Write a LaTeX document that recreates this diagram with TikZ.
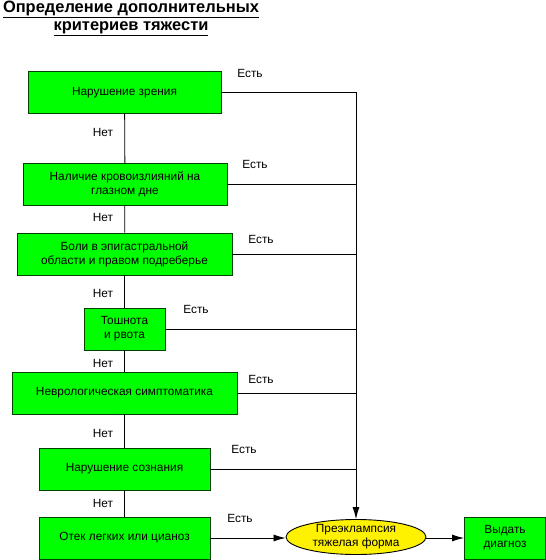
\documentclass[tikz,border=0pt]{standalone}
\usepackage{fontspec}
\setmainfont{Liberation Sans}
\usetikzlibrary{arrows.meta,shapes.geometric}

\begin{document}
\begin{tikzpicture}[x=1bp, y=-1bp,
  crit/.style={draw=black!75!green, fill=green, line width=0.9bp, minimum height=42bp,
    inner sep=0pt, align=center, font=\fontsize{11.9}{14}\selectfont},
  result/.style={ellipse, draw=black, fill=yellow, line width=0.9bp, minimum width=140bp,
    minimum height=35bp, inner sep=0pt, align=center, font=\fontsize{11.9}{14}\selectfont},
  lbl/.style={font=\fontsize{11.9}{14}\selectfont, inner sep=0pt},
  link/.style={draw=black, line width=0.8bp},
  arr/.style={link, -{Latex[length=12bp,width=7bp]}}
]
\useasboundingbox (0,0) rectangle (546,560);
% title
\node[font=\bfseries\fontsize{16.5}{18.5}\selectfont, align=center, inner sep=0pt] (title) at (131,18.5)
  {\underline{Определение дополнительных}\\ \underline{критериев тяжести}};
% criteria column
\node[crit, minimum width=193bp] (vis) at (124.5,92.5) {Нарушение зрения};
\node[crit, minimum width=204bp] (fund) at (125,184.5) {Наличие кровоизлияний на\\ глазном дне};
\node[crit, minimum width=215bp] (epig) at (124.5,254) {Боли в эпигастральной\\ области и правом подреберье};
\node[crit, minimum width=81bp] (naus) at (124.5,329) {Тошнота\\ и рвота};
\node[crit, minimum width=225bp] (neuro) at (124.5,393) {Неврологическая симптоматика};
\node[crit, minimum width=171bp] (consc) at (124.5,469) {Нарушение сознания};
\node[crit, minimum width=171bp] (lung) at (124.5,538) {Отек легких или цианоз};
\node[result] (pre) at (356,537) {Преэклампсия\\ тяжелая форма};
\node[crit, minimum width=81bp] (diag) at (505,538) {Выдать\\ диагноз};
\coordinate (join) at (356,92.5);
% "no" path
\draw[link] (vis) -- (fund);
\draw[link] (fund) -- (epig);
\draw[link] (epig) -- (naus);
\draw[link] (naus) -- (neuro);
\draw[link] (neuro) -- (consc);
\draw[link] (consc) -- (lung);
% "yes" path
\draw[link] (vis.east) -- (join);
\draw[arr] (join) -- (pre.north);
\draw[link] (fund.east) -- (fund.east -| join);
\draw[link] (epig.east) -- (epig.east -| join);
\draw[link] (naus.east) -- (naus.east -| join);
\draw[link] (neuro.east) -- (neuro.east -| join);
\draw[link] (consc.east) -- (consc.east -| join);
\draw[arr] (lung.east) -- (lung.east -| pre.west);
\draw[arr] (pre.east |- diag) -- (diag.west);
% labels
\node[lbl] (y1) at (250,73) {Есть};
\node[lbl] (y2) at (255,164) {Есть};
\node[lbl] (y3) at (261,239) {Есть};
\node[lbl] (y4) at (196,309) {Есть};
\node[lbl] (y5) at (261,379) {Есть};
\node[lbl] (y6) at (244,449) {Есть};
\node[lbl] (y7) at (240,518) {Есть};
\node[lbl] (n1) at (103,132) {Нет};
\node[lbl] (n2) at (103,217) {Нет};
\node[lbl] (n3) at (103,293) {Нет};
\node[lbl] (n4) at (103,363) {Нет};
\node[lbl] (n5) at (103,433) {Нет};
\node[lbl] (n6) at (103,503) {Нет};
\end{tikzpicture}
\end{document}
